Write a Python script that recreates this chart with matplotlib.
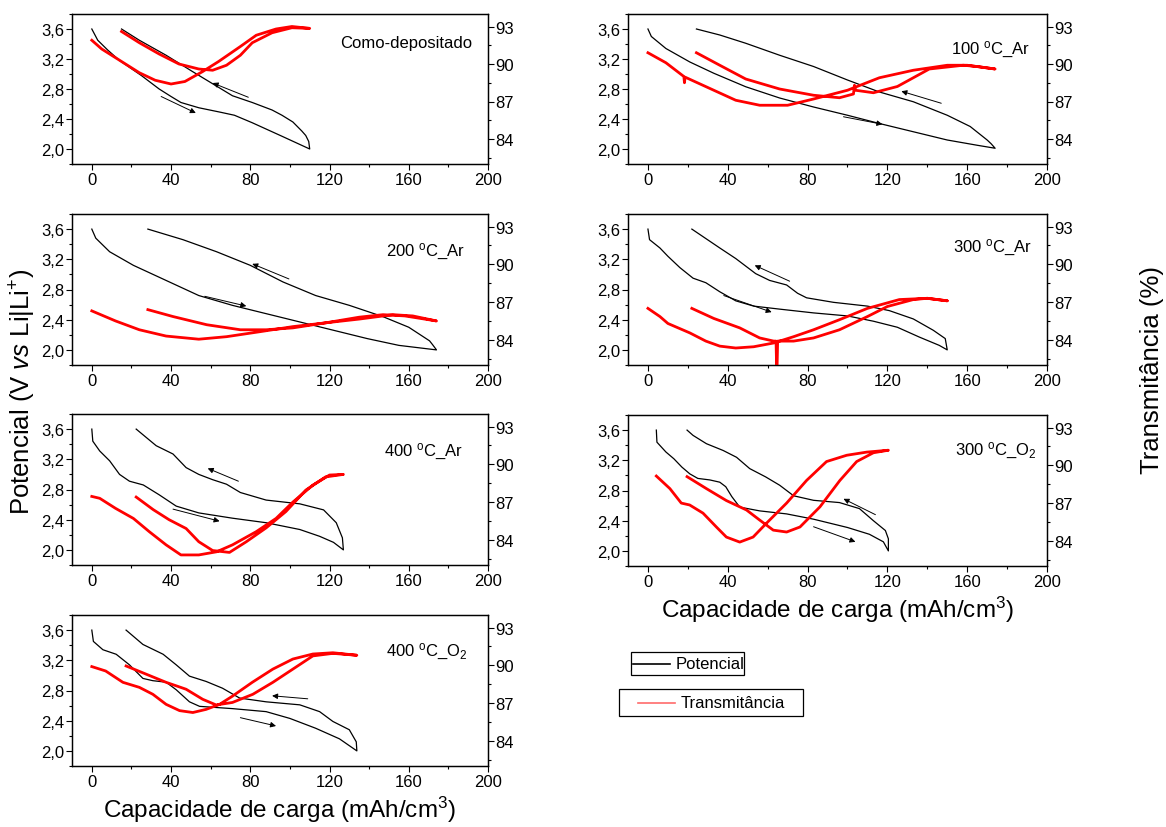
import matplotlib
matplotlib.use('Agg')
import matplotlib.pyplot as plt
from matplotlib.ticker import MultipleLocator, FuncFormatter
from matplotlib.patches import Rectangle
from matplotlib.lines import Line2D

plt.rcParams['font.family'] = ['Liberation Sans', 'DejaVu Sans']
plt.rcParams['mathtext.fontset'] = 'custom'
plt.rcParams['mathtext.rm'] = 'Liberation Sans'
plt.rcParams['mathtext.it'] = 'Liberation Sans:italic'
plt.rcParams['mathtext.bf'] = 'Liberation Sans:bold'

# --- como-depositado ---
como_pot_x = [0, 3, 8, 14, 25, 34, 40, 45, 54, 65, 72, 81, 96, 110,
              109.5, 108, 106, 101.5, 96, 91, 81, 71, 61, 51, 37.5, 24, 15]
como_pot_v = [3.60, 3.45, 3.32, 3.18, 2.98, 2.80, 2.70, 2.62, 2.55, 2.49, 2.45, 2.35, 2.17, 2.00,
              2.10, 2.18, 2.24, 2.36, 2.45, 2.52, 2.62, 2.71, 2.87, 3.03, 3.25, 3.45, 3.60]
como_tr_x = [0, 5, 14, 24, 32, 40, 47, 56, 64, 75, 83, 93, 101, 110,
             101, 91, 81, 75, 68, 61, 54, 44, 34, 24, 15]
como_tr_t = [91.9, 91.2, 90.3, 89.3, 88.7, 88.4, 88.6, 89.4, 90.2, 91.4, 92.3, 92.8, 93.0, 92.85,
             92.9, 92.5, 91.7, 90.7, 89.9, 89.5, 89.6, 90.0, 90.8, 91.7, 92.6]

# --- 100 C Ar ---
ar100_pot_x = [0, 1.7, 9, 21, 33, 49, 66, 83, 100, 116, 133, 150, 165, 174,
               172, 170, 161.5, 150, 133, 116, 100, 83, 66, 49, 36, 24.3]
ar100_pot_v = [3.60, 3.50, 3.34, 3.16, 3.01, 2.83, 2.68, 2.56, 2.45, 2.34, 2.23, 2.12, 2.05, 2.01,
               2.07, 2.12, 2.30, 2.45, 2.63, 2.76, 2.92, 3.10, 3.25, 3.41, 3.52, 3.60]
ar100_tr_x = [0, 9, 18, 18.3, 18.6, 33, 44, 56, 70, 83, 100, 116, 133, 150, 160, 174,
              165, 158, 141, 125, 113, 104, 103.5, 103, 96, 83, 66, 49, 36, 24.3]
ar100_tr_t = [90.9, 90.1, 89.0, 88.5, 88.95, 87.9, 87.1, 86.7, 86.7, 87.2, 87.9, 88.9, 89.5, 89.9, 89.9, 89.6,
              89.8, 89.9, 89.6, 88.2, 87.7, 87.9, 88.3, 87.6, 87.3, 87.5, 88.0, 88.8, 89.9, 90.9]

# --- 200 C Ar ---
ar200_pot_x = [0, 2, 9, 21, 37.5, 54, 71, 88, 105, 122, 139, 155, 174,
               172, 170.5, 160, 147, 130, 113, 96.5, 80, 63, 46, 28.3]
ar200_pot_v = [3.60, 3.48, 3.30, 3.12, 2.92, 2.72, 2.59, 2.48, 2.37, 2.26, 2.15, 2.06, 2.00,
               2.07, 2.12, 2.30, 2.44, 2.59, 2.72, 2.90, 3.12, 3.30, 3.46, 3.60]
ar200_tr_x = [0, 12, 24, 37.5, 54, 68, 85, 101.5, 118, 135, 152, 162, 174,
              158, 147, 135, 118, 101.5, 88, 75, 58, 41, 28.3]
ar200_tr_t = [86.3, 85.5, 84.8, 84.3, 84.05, 84.25, 84.65, 85.05, 85.35, 85.65, 86.0, 85.9, 85.5,
              85.9, 86.0, 85.8, 85.35, 84.95, 84.8, 84.8, 85.2, 85.85, 86.4]

# --- 300 C Ar ---
ar300_pot_x = [0, 0.8, 6, 10, 16, 22.6, 29, 36, 44, 53, 66, 83, 100, 113, 125, 136, 146, 150,
               149, 143, 133, 121, 110, 93, 79.5, 75, 69.5, 61, 54, 44, 36, 22]
ar300_pot_v = [3.60, 3.46, 3.35, 3.24, 3.09, 2.95, 2.89, 2.77, 2.65, 2.58, 2.54, 2.49, 2.45, 2.38, 2.30, 2.17, 2.06, 2.00,
               2.15, 2.26, 2.41, 2.52, 2.58, 2.63, 2.69, 2.75, 2.86, 2.92, 3.01, 3.21, 3.35, 3.60]
ar300_tr_x = [0, 6, 10, 21, 29, 36, 44, 53, 63, 73, 83, 96, 110, 126, 140, 150,
              140, 133, 120, 110, 96, 83, 73, 65, 64.6, 64.2, 63, 56, 46, 33, 22]
ar300_tr_t = [86.5, 85.85, 85.3, 84.55, 83.9, 83.5, 83.35, 83.45, 83.75, 84.25, 84.8, 85.6, 86.5, 87.2, 87.3, 87.1,
              87.3, 87.2, 86.65, 85.85, 84.8, 84.15, 83.9, 83.9, 81.0, 83.9, 83.9, 84.15, 84.95, 85.7, 86.5]

# --- 400 C Ar ---
ar400_pot_x = [0, 0.5, 4, 9, 14, 19, 26, 34, 42.6, 54, 71, 88, 105, 115, 122, 127,
               126.5, 123.4, 117, 105, 88, 75, 68, 61, 54, 47.6, 41, 32.5, 22.4]
ar400_pot_v = [3.60, 3.44, 3.31, 3.18, 3.00, 2.91, 2.86, 2.73, 2.58, 2.49, 2.42, 2.36, 2.27, 2.18, 2.10, 2.00,
               2.16, 2.36, 2.53, 2.61, 2.66, 2.76, 2.87, 2.93, 3.00, 3.09, 3.27, 3.38, 3.60]
ar400_tr_x = [0, 4, 12, 21, 29, 37.5, 45, 54, 63, 71, 83, 93, 101.5, 111.6, 120, 127,
              118, 108, 98, 88, 78, 69.5, 61, 54, 47.6, 39, 31, 22.4]
ar400_tr_t = [87.45, 87.3, 86.5, 85.7, 84.65, 83.6, 82.8, 82.8, 83.05, 83.6, 84.65, 85.7, 87.0, 88.35, 89.15, 89.2,
              89.0, 87.95, 86.25, 84.95, 83.85, 83.0, 83.15, 83.85, 84.9, 85.6, 86.4, 87.4]

# --- 300 C O2 ---
o300_pot_x = [4.2, 4.5, 9, 13, 17, 21, 25, 31, 36, 39, 42, 46, 56, 69.5, 83, 100, 111, 118, 120.5,
              120.5, 119, 113, 106, 96, 83, 73, 66, 59, 51, 44.4, 37.7, 29.3, 22.6, 19.6]
o300_pot_v = [3.60, 3.44, 3.31, 3.22, 3.11, 3.02, 2.96, 2.94, 2.91, 2.85, 2.72, 2.58, 2.53, 2.49, 2.42, 2.31, 2.22, 2.12, 2.00,
              2.16, 2.27, 2.40, 2.56, 2.64, 2.67, 2.73, 2.87, 2.98, 3.09, 3.24, 3.33, 3.42, 3.53, 3.60]
o300_tr_x = [4.2, 11, 16.7, 20.9, 27.6, 34.3, 39.3, 46, 52.7, 59.4, 69.5, 79.5, 89.5, 99.6, 109.6, 120.5,
             113, 104.6, 96.2, 86.2, 76.2, 69.5, 62.8, 56, 49.4, 39.3, 29.3, 19.6]
o300_tr_t = [89.15, 88.15, 87.0, 86.85, 86.2, 85.1, 84.3, 83.9, 84.3, 85.4, 87.0, 88.8, 90.3, 90.8, 91.05, 91.2,
             91.0, 90.3, 88.8, 86.7, 85.1, 84.7, 84.85, 85.65, 86.45, 87.2, 88.15, 89.1]

# --- 400 C O2 ---
o400_pot_x = [0, 0.8, 5.6, 12.3, 19, 25.8, 30.8, 37.5, 42.6, 49.3, 54.4, 71, 88, 100, 113, 125, 133.8,
              133.5, 130, 121.7, 115, 105, 88, 74.6, 66, 57.7, 49.3, 42.6, 36, 25.8, 17.3]
o400_pot_v = [3.60, 3.45, 3.34, 3.28, 3.14, 2.96, 2.93, 2.91, 2.81, 2.65, 2.59, 2.56, 2.52, 2.43, 2.30, 2.16, 2.00,
              2.12, 2.28, 2.39, 2.52, 2.61, 2.65, 2.70, 2.83, 2.92, 2.99, 3.14, 3.28, 3.41, 3.60]
o400_tr_x = [0, 7, 15.7, 24, 30.8, 37.5, 44.3, 51, 57.7, 64.5, 71, 81, 91.4, 101.5, 111.6, 121.7, 133.8,
             121.7, 111.6, 101.5, 91.4, 81.3, 71, 62.8, 56, 47.6, 37.5, 27.4, 17.3]
o400_tr_t = [89.9, 89.55, 88.65, 88.25, 87.7, 86.9, 86.4, 86.25, 86.5, 86.9, 87.55, 88.65, 89.7, 90.5, 90.9, 91.0, 90.8,
             90.95, 90.75, 89.7, 88.65, 87.7, 87.05, 86.85, 87.3, 88.1, 88.65, 89.3, 89.95]

# setas (inicio, ponta) em coordenadas de capacidade / potencial
como_setas = [((79, 2.69), (61, 2.88)), ((35, 2.70), (52.5, 2.48))]
ar100_setas = [((147, 2.61), (127, 2.77)), ((98, 2.43), (117.5, 2.33))]
ar200_setas = [((99.5, 2.94), (81, 3.14)), ((57, 2.71), (78, 2.58))]
ar300_setas = [((71, 2.91), (53.5, 3.12)), ((38, 2.72), (62, 2.50))]
ar400_setas = [((74, 2.91), (58.5, 3.08)), ((41, 2.54), (64.5, 2.38))]
o300_setas = [((114, 2.48), (98, 2.69)), ((83, 2.32), (104, 2.12))]
o400_setas = [((109, 2.69), (91, 2.73)), ((75, 2.44), (93, 2.33))]

W, H = 1166, 828
fig = plt.figure(figsize=(W / 100, H / 100), dpi=100)


def rect(x0, y0, x1, y1):
    # caixa em pixels (origem no topo) -> fracao da figura
    return [x0 / W, 1 - y1 / H, (x1 - x0) / W, (y1 - y0) / H]


virgula = FuncFormatter(lambda v, p: f"{v:.1f}".replace('.', ','))


def painel(caixa, pot_x, pot_v, tr_x, tr_t, setas, rotulo, rx, ry):
    ax = fig.add_axes(caixa)
    ax.plot(pot_x, pot_v, color='black', lw=0.9)
    ax.set_xlim(-10, 200)
    ax.set_ylim(1.8, 3.8)
    ax.xaxis.set_major_locator(MultipleLocator(40))
    ax.xaxis.set_minor_locator(MultipleLocator(20))
    ax.yaxis.set_major_locator(MultipleLocator(0.4))
    ax.yaxis.set_minor_locator(MultipleLocator(0.2))
    ax.yaxis.set_major_formatter(virgula)

    ax2 = ax.twinx()
    ax2.plot(tr_x, tr_t, color='#ff0000', lw=2.0)
    ax2.set_ylim(82, 94)
    ax2.yaxis.set_major_locator(MultipleLocator(3))
    ax2.yaxis.set_minor_locator(MultipleLocator(1.5))

    for a in (ax, ax2):
        a.tick_params(which='both', direction='out', width=0.8, labelsize=12, pad=1.5)
        a.tick_params(which='major', length=4)
        a.tick_params(which='minor', length=2.5)
        for s in a.spines.values():
            s.set_linewidth(0.9)
    ax.tick_params(top=False, right=False)

    for ini, fim in setas:
        ax.annotate('', xy=fim, xytext=ini,
                    arrowprops=dict(arrowstyle='-|>', color='black', lw=0.7,
                                    mutation_scale=8, shrinkA=0, shrinkB=0))
    ax.text(rx, ry, rotulo, transform=ax.transAxes, ha='right', va='center', fontsize=12)
    return ax


painel(rect(72, 15, 488, 165), como_pot_x, como_pot_v, como_tr_x, como_tr_t,
       como_setas, 'Como-depositado', 0.962, 0.81)
painel(rect(628, 15, 1047, 165), ar100_pot_x, ar100_pot_v, ar100_tr_x, ar100_tr_t,
       ar100_setas, r'100 $^{\mathrm{o}}$C_Ar', 0.96, 0.77)
painel(rect(72, 215, 488, 366), ar200_pot_x, ar200_pot_v, ar200_tr_x, ar200_tr_t,
       ar200_setas, r'200 $^{\mathrm{o}}$C_Ar', 0.945, 0.755)
painel(rect(628, 215, 1047, 366), ar300_pot_x, ar300_pot_v, ar300_tr_x, ar300_tr_t,
       ar300_setas, r'300 $^{\mathrm{o}}$C_Ar', 0.964, 0.78)
painel(rect(72, 415, 488, 566), ar400_pot_x, ar400_pot_v, ar400_tr_x, ar400_tr_t,
       ar400_setas, r'400 $^{\mathrm{o}}$C_Ar', 0.94, 0.755)
ax6 = painel(rect(628, 416, 1047, 567), o300_pot_x, o300_pot_v, o300_tr_x, o300_tr_t,
             o300_setas, r'300 $^{\mathrm{o}}$C_O$_{\mathrm{2}}$', 0.976, 0.77)
ax7 = painel(rect(72, 616, 488, 767), o400_pot_x, o400_pot_v, o400_tr_x, o400_tr_t,
             o400_setas, r'400 $^{\mathrm{o}}$C_O$_{\mathrm{2}}$', 0.952, 0.76)

xlabel = r'Capacidade de carga (mAh/cm$^{\mathrm{3}}$)'
ax6.set_xlabel(xlabel, fontsize=17.5, labelpad=4)
ax7.set_xlabel(xlabel, fontsize=17.5, labelpad=4)

fig.text(23 / W, 1 - 392 / H, r'Potencial (V $\mathit{vs}$ Li|Li$^{\mathrm{+}}$)',
         rotation=90, ha='center', va='center', fontsize=18.5)
fig.text(1152 / W, 1 - 370 / H, 'Transmitância (%)',
         rotation=90, ha='center', va='center', fontsize=18.5)

# caixas de legenda separadas
for (x0, y0, x1, y1), cor, nome, lx0, lx1, tx in [
        ((631, 653, 744, 676), 'black', 'Potencial', 633, 670, 676),
        ((619, 690, 803, 717), '#ff6b6b', 'Transmitância', 638, 675, 681)]:
    fig.add_artist(Rectangle((x0 / W, 1 - y1 / H), (x1 - x0) / W, (y1 - y0) / H,
                             transform=fig.transFigure, fill=False, edgecolor='black', lw=0.9))
    ym = 1 - (y0 + y1) / 2 / H
    fig.add_artist(Line2D([lx0 / W, lx1 / W], [ym, ym], transform=fig.transFigure,
                          color=cor, lw=1.2))
    fig.text(tx / W, ym, nome, ha='left', va='center', fontsize=12)

fig.savefig('out.png', dpi=100)
